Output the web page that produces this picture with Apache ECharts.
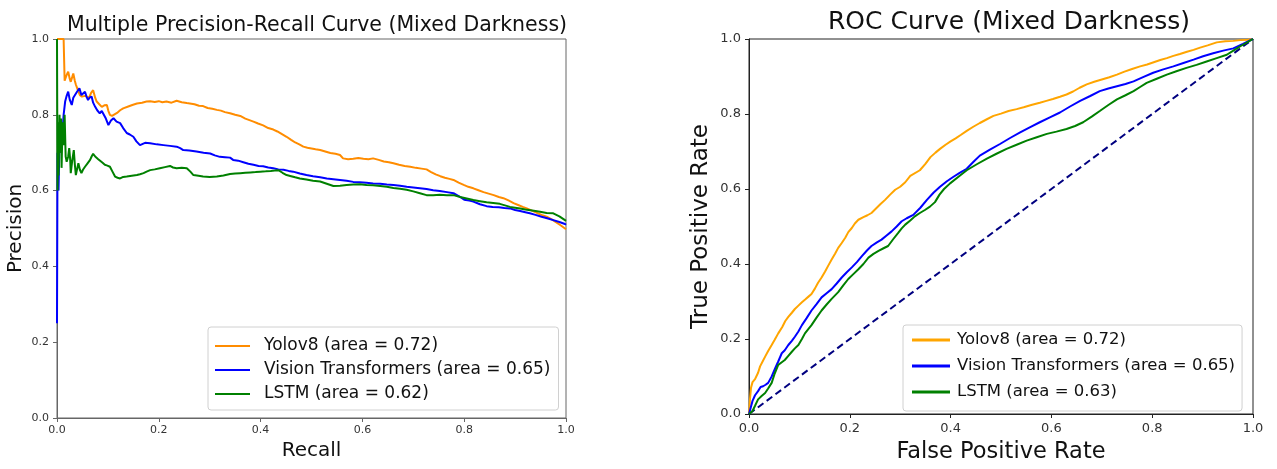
<!DOCTYPE html>
<html>
<head>
<meta charset="utf-8">
<script src="https://cdn.jsdelivr.net/npm/echarts@6/dist/echarts.min.js"></script>
<style>html,body{margin:0;padding:0;background:#fff}#c{width:1277px;height:469px}</style>
</head>
<body>
<div id="c"></div>
<script>
// ---- tick labels ----
const tickValues = [0, 0.2, 0.4, 0.6, 0.8, 1.0];

// ---- series names ----
const prNames = ['Yolov8 (area = 0.72)', 'Vision Transformers (area = 0.65)', 'LSTM (area = 0.62)'];
const rocNames = ['Yolov8 (area = 0.72)', 'Vision Transformers (area = 0.65)', 'LSTM (area = 0.63)'];

// ---- Precision-Recall data: [recall, precision] ----
const prYolo = [[0,1.0],[0.013,1.0],[0.015,0.89],[0.019,0.905],[0.022,0.914],[0.025,0.895],[0.027,0.887],[0.030,0.90],[0.032,0.909],[0.035,0.89],[0.037,0.88],[0.041,0.865],[0.045,0.852],[0.049,0.848],[0.052,0.843],[0.055,0.85],[0.058,0.852],[0.063,0.845],[0.067,0.858],[0.071,0.865],[0.075,0.845],[0.078,0.835],[0.083,0.828],[0.088,0.821],[0.093,0.825],[0.098,0.826],[0.101,0.81],[0.104,0.80],[0.108,0.797],[0.111,0.795],[0.118,0.805],[0.124,0.812],[0.13,0.817],[0.14,0.822],[0.148,0.826],[0.157,0.83],[0.167,0.832],[0.176,0.835],[0.183,0.836],[0.192,0.834],[0.2,0.836],[0.207,0.833],[0.215,0.835],[0.225,0.832],[0.235,0.837],[0.245,0.833],[0.255,0.831],[0.261,0.83],[0.27,0.828],[0.279,0.824],[0.287,0.823],[0.296,0.818],[0.305,0.816],[0.314,0.813],[0.322,0.811],[0.33,0.807],[0.34,0.804],[0.35,0.8],[0.36,0.797],[0.37,0.79],[0.378,0.786],[0.386,0.782],[0.395,0.777],[0.405,0.772],[0.415,0.765],[0.425,0.761],[0.433,0.756],[0.442,0.749],[0.451,0.742],[0.46,0.734],[0.468,0.727],[0.476,0.722],[0.484,0.716],[0.492,0.713],[0.5,0.711],[0.508,0.709],[0.517,0.707],[0.527,0.703],[0.537,0.699],[0.547,0.697],[0.556,0.694],[0.562,0.685],[0.572,0.683],[0.582,0.684],[0.592,0.686],[0.602,0.684],[0.612,0.683],[0.621,0.685],[0.632,0.681],[0.642,0.677],[0.652,0.675],[0.661,0.672],[0.672,0.668],[0.683,0.665],[0.694,0.663],[0.705,0.66],[0.716,0.658],[0.726,0.656],[0.735,0.649],[0.744,0.643],[0.753,0.638],[0.762,0.634],[0.771,0.631],[0.779,0.628],[0.789,0.621],[0.799,0.615],[0.808,0.61],[0.818,0.606],[0.828,0.601],[0.838,0.596],[0.848,0.592],[0.858,0.588],[0.868,0.583],[0.877,0.58],[0.887,0.574],[0.897,0.567],[0.906,0.562],[0.915,0.557],[0.923,0.553],[0.933,0.547],[0.943,0.541],[0.952,0.536],[0.962,0.531],[0.972,0.524],[0.981,0.516],[0.99,0.508],[0.998,0.5],[1.0,0.498]];

const prVit = [[0,0.25],[0.001,0.70],[0.003,0.60],[0.005,0.74],[0.006,0.733],[0.008,0.70],[0.011,0.76],[0.013,0.80],[0.016,0.835],[0.019,0.85],[0.022,0.861],[0.025,0.84],[0.029,0.826],[0.032,0.845],[0.035,0.848],[0.039,0.86],[0.044,0.870],[0.048,0.852],[0.051,0.857],[0.055,0.861],[0.058,0.848],[0.061,0.839],[0.064,0.845],[0.068,0.848],[0.071,0.832],[0.075,0.821],[0.079,0.812],[0.084,0.804],[0.088,0.81],[0.091,0.813],[0.096,0.79],[0.101,0.773],[0.106,0.785],[0.111,0.791],[0.117,0.782],[0.124,0.778],[0.13,0.765],[0.137,0.752],[0.143,0.748],[0.15,0.742],[0.156,0.73],[0.163,0.72],[0.173,0.726],[0.183,0.725],[0.196,0.722],[0.209,0.72],[0.222,0.718],[0.235,0.716],[0.242,0.712],[0.248,0.707],[0.26,0.706],[0.274,0.703],[0.288,0.70],[0.301,0.698],[0.31,0.693],[0.32,0.689],[0.33,0.688],[0.34,0.687],[0.346,0.681],[0.356,0.679],[0.366,0.675],[0.376,0.671],[0.386,0.668],[0.396,0.665],[0.405,0.664],[0.415,0.661],[0.425,0.659],[0.435,0.656],[0.445,0.655],[0.455,0.652],[0.464,0.65],[0.477,0.645],[0.49,0.641],[0.503,0.638],[0.517,0.635],[0.53,0.632],[0.543,0.63],[0.556,0.628],[0.569,0.626],[0.582,0.623],[0.595,0.622],[0.608,0.621],[0.621,0.619],[0.635,0.618],[0.648,0.616],[0.661,0.615],[0.674,0.613],[0.687,0.61],[0.70,0.608],[0.713,0.606],[0.726,0.604],[0.739,0.601],[0.752,0.599],[0.766,0.596],[0.779,0.593],[0.79,0.585],[0.8,0.576],[0.81,0.574],[0.818,0.571],[0.831,0.564],[0.844,0.559],[0.856,0.557],[0.868,0.556],[0.879,0.554],[0.89,0.553],[0.90,0.549],[0.91,0.546],[0.92,0.543],[0.929,0.54],[0.94,0.536],[0.952,0.531],[0.963,0.527],[0.975,0.522],[0.987,0.517],[0.998,0.512],[1.0,0.51]];

const prLstm = [[0,1.0],[0.001,0.60],[0.002,0.78],[0.003,0.64],[0.005,0.80],[0.006,0.70],[0.008,0.79],[0.009,0.66],[0.011,0.78],[0.013,0.72],[0.015,0.80],[0.017,0.69],[0.019,0.676],[0.022,0.69],[0.024,0.712],[0.026,0.68],[0.027,0.646],[0.03,0.68],[0.033,0.707],[0.035,0.67],[0.037,0.641],[0.04,0.66],[0.042,0.672],[0.045,0.655],[0.048,0.646],[0.051,0.655],[0.055,0.663],[0.06,0.672],[0.065,0.681],[0.068,0.69],[0.071,0.697],[0.075,0.69],[0.078,0.685],[0.081,0.683],[0.084,0.681],[0.089,0.674],[0.094,0.668],[0.099,0.666],[0.104,0.663],[0.109,0.65],[0.114,0.637],[0.119,0.634],[0.124,0.632],[0.13,0.636],[0.137,0.637],[0.147,0.639],[0.157,0.641],[0.163,0.643],[0.17,0.646],[0.176,0.65],[0.183,0.654],[0.192,0.656],[0.202,0.659],[0.212,0.662],[0.222,0.665],[0.228,0.661],[0.235,0.659],[0.245,0.66],[0.255,0.659],[0.262,0.65],[0.268,0.641],[0.278,0.639],[0.287,0.637],[0.3,0.636],[0.314,0.637],[0.327,0.64],[0.34,0.644],[0.35,0.645],[0.36,0.646],[0.37,0.647],[0.38,0.648],[0.39,0.649],[0.399,0.65],[0.41,0.651],[0.42,0.652],[0.428,0.653],[0.435,0.654],[0.443,0.647],[0.451,0.641],[0.46,0.638],[0.468,0.635],[0.477,0.632],[0.49,0.629],[0.503,0.626],[0.517,0.624],[0.53,0.618],[0.543,0.612],[0.556,0.613],[0.569,0.615],[0.582,0.616],[0.595,0.617],[0.608,0.615],[0.621,0.614],[0.635,0.612],[0.648,0.61],[0.661,0.607],[0.674,0.605],[0.687,0.602],[0.70,0.598],[0.713,0.593],[0.726,0.588],[0.739,0.588],[0.752,0.589],[0.766,0.588],[0.779,0.588],[0.792,0.583],[0.805,0.579],[0.818,0.575],[0.831,0.572],[0.844,0.569],[0.857,0.567],[0.87,0.565],[0.88,0.561],[0.89,0.557],[0.9,0.555],[0.91,0.553],[0.92,0.55],[0.93,0.548],[0.94,0.546],[0.949,0.544],[0.962,0.541],[0.975,0.54],[0.987,0.532],[0.998,0.522],[1.0,0.52]];

// ---- ROC data: [fpr, tpr] ----
const rocYolo = [[0,0],[0.002,0.04],[0.004,0.07],[0.007,0.085],[0.009,0.09],[0.012,0.093],[0.015,0.096],[0.018,0.11],[0.022,0.127],[0.027,0.14],[0.032,0.153],[0.038,0.168],[0.045,0.184],[0.051,0.198],[0.058,0.215],[0.066,0.232],[0.072,0.248],[0.078,0.259],[0.085,0.27],[0.091,0.28],[0.098,0.289],[0.105,0.298],[0.112,0.306],[0.118,0.313],[0.124,0.32],[0.131,0.335],[0.137,0.35],[0.144,0.364],[0.151,0.38],[0.157,0.395],[0.164,0.412],[0.171,0.428],[0.177,0.443],[0.184,0.456],[0.191,0.47],[0.197,0.485],[0.204,0.496],[0.21,0.508],[0.217,0.518],[0.227,0.525],[0.235,0.53],[0.243,0.536],[0.252,0.548],[0.261,0.56],[0.27,0.571],[0.28,0.585],[0.29,0.598],[0.3,0.606],[0.31,0.618],[0.32,0.635],[0.339,0.65],[0.35,0.667],[0.36,0.685],[0.37,0.697],[0.379,0.707],[0.39,0.718],[0.4,0.727],[0.41,0.735],[0.42,0.744],[0.432,0.755],[0.445,0.766],[0.458,0.776],[0.472,0.786],[0.485,0.795],[0.5,0.801],[0.515,0.808],[0.531,0.813],[0.545,0.818],[0.56,0.824],[0.577,0.83],[0.59,0.835],[0.603,0.84],[0.617,0.846],[0.63,0.852],[0.643,0.86],[0.656,0.87],[0.67,0.879],[0.685,0.886],[0.7,0.892],[0.715,0.898],[0.73,0.905],[0.745,0.913],[0.76,0.92],[0.776,0.927],[0.79,0.932],[0.803,0.938],[0.816,0.944],[0.829,0.949],[0.842,0.955],[0.855,0.96],[0.869,0.966],[0.882,0.971],[0.895,0.977],[0.91,0.983],[0.928,0.991],[0.945,0.994],[0.961,0.995],[0.975,0.997],[0.99,0.998],[1.0,1.0]];

const rocVit = [[0,0],[0.004,0.02],[0.007,0.035],[0.012,0.05],[0.018,0.061],[0.023,0.072],[0.028,0.074],[0.033,0.078],[0.038,0.083],[0.045,0.1],[0.052,0.122],[0.058,0.14],[0.065,0.162],[0.071,0.17],[0.078,0.184],[0.085,0.195],[0.091,0.206],[0.098,0.22],[0.105,0.237],[0.114,0.255],[0.124,0.276],[0.134,0.293],[0.144,0.311],[0.154,0.322],[0.164,0.333],[0.174,0.348],[0.184,0.364],[0.194,0.378],[0.204,0.391],[0.214,0.405],[0.224,0.421],[0.234,0.436],[0.243,0.448],[0.253,0.457],[0.263,0.465],[0.273,0.476],[0.283,0.487],[0.293,0.5],[0.303,0.514],[0.313,0.522],[0.326,0.531],[0.34,0.55],[0.353,0.571],[0.366,0.59],[0.379,0.606],[0.392,0.62],[0.405,0.632],[0.418,0.643],[0.432,0.654],[0.445,0.672],[0.458,0.689],[0.478,0.705],[0.498,0.72],[0.518,0.736],[0.538,0.751],[0.558,0.765],[0.577,0.778],[0.597,0.791],[0.617,0.804],[0.637,0.82],[0.657,0.835],[0.677,0.848],[0.696,0.861],[0.713,0.868],[0.73,0.874],[0.747,0.88],[0.763,0.887],[0.783,0.899],[0.802,0.91],[0.822,0.919],[0.842,0.927],[0.862,0.936],[0.882,0.945],[0.901,0.954],[0.921,0.962],[0.941,0.969],[0.961,0.975],[0.98,0.987],[1.0,1.0]];

const rocLstm = [[0,0],[0.007,0.008],[0.012,0.022],[0.018,0.039],[0.025,0.048],[0.032,0.056],[0.038,0.068],[0.045,0.083],[0.051,0.108],[0.058,0.131],[0.065,0.138],[0.071,0.144],[0.078,0.155],[0.085,0.166],[0.091,0.175],[0.098,0.184],[0.105,0.2],[0.111,0.215],[0.118,0.227],[0.124,0.237],[0.134,0.257],[0.144,0.276],[0.154,0.292],[0.164,0.307],[0.177,0.325],[0.187,0.343],[0.197,0.36],[0.207,0.373],[0.217,0.386],[0.227,0.4],[0.237,0.417],[0.247,0.427],[0.257,0.435],[0.267,0.442],[0.276,0.448],[0.286,0.466],[0.296,0.483],[0.303,0.495],[0.31,0.505],[0.32,0.516],[0.329,0.527],[0.339,0.536],[0.349,0.544],[0.359,0.553],[0.369,0.565],[0.378,0.585],[0.387,0.6],[0.399,0.615],[0.415,0.632],[0.432,0.65],[0.452,0.666],[0.472,0.681],[0.491,0.694],[0.511,0.707],[0.531,0.718],[0.551,0.729],[0.571,0.738],[0.591,0.747],[0.61,0.753],[0.63,0.76],[0.647,0.768],[0.663,0.778],[0.68,0.793],[0.696,0.808],[0.713,0.824],[0.73,0.839],[0.747,0.85],[0.763,0.861],[0.776,0.872],[0.789,0.883],[0.809,0.894],[0.829,0.905],[0.848,0.914],[0.868,0.923],[0.888,0.931],[0.908,0.94],[0.928,0.949],[0.948,0.958],[0.961,0.969],[0.974,0.98],[0.987,0.99],[1.0,1.0]];

const chanceLine = [[0,0],[1,1]];

// ---- styles ----
const FONT = 'DejaVu Sans';
const prColors = ['#ff8c00', '#0000ff', '#008000'];
const rocColors = ['#ffa500', '#0000ff', '#008000'];

function valAxis(gridIndex, fontSize, axisColor, name, nameSize, nameGap, margin) {
  return {
    type: 'value', gridIndex, min: 0, max: 1, interval: 0.2,
    name, nameLocation: 'middle', nameGap,
    nameTextStyle: { fontFamily: FONT, fontSize: nameSize, color: '#111' },
    axisLine: { show: true, lineStyle: { color: axisColor, width: 1 } },
    axisTick: { show: true, length: 4, lineStyle: { color: axisColor } },
    splitLine: { show: false },
    axisLabel: { fontFamily: FONT, fontSize, color: '#333', margin,
      formatter: v => tickValues.some(t => Math.abs(t - v) < 1e-9) ? v.toFixed(1) : '' }
  };
}

const chart = echarts.init(document.getElementById('c'), null, { renderer: 'canvas' });
chart.setOption({
  animation: false,
  backgroundColor: '#fff',
  title: [
    { text: 'Multiple Precision-Recall Curve (Mixed Darkness)', left: 312, top: 10, textAlign: 'center',
      textStyle: { fontFamily: FONT, fontSize: 20.5, fontWeight: 'normal', color: '#111' } },
    { text: 'ROC Curve (Mixed Darkness)', left: 1004, top: 5, textAlign: 'center',
      textStyle: { fontFamily: FONT, fontSize: 25, fontWeight: 'normal', color: '#111' } }
  ],
  grid: [
    { left: 57, right: 711, top: 39, bottom: 51, show: true, borderColor: '#666', borderWidth: 1, backgroundColor: 'transparent' },
    { left: 749, right: 24, top: 39, bottom: 51, show: true, borderColor: '#222', borderWidth: 1, backgroundColor: 'transparent' }
  ],
  xAxis: [
    valAxis(0, 11, '#666', 'Recall', 20, 22, 7),
    valAxis(1, 13, '#222', 'False Positive Rate', 22.5, 27, 8)
  ],
  yAxis: [
    valAxis(0, 11, '#666', 'Precision', 20, 31, 8),
    valAxis(1, 13, '#222', 'True Positive Rate', 23, 36, 8)
  ],
  legend: [
    { orient: 'vertical', left: 208, top: 327, itemWidth: 35, itemHeight: 2, itemGap: 4, icon: 'rect',
      padding: [9, 8, 6, 7], borderColor: '#d0d0d0', borderWidth: 1, borderRadius: 3, backgroundColor: 'rgba(255,255,255,0.85)',
      textStyle: { fontFamily: FONT, fontSize: 17, color: '#111', lineHeight: 20, padding: [0, 0, 0, 9] },
      data: prNames.map((n, i) => ({ name: n, itemStyle: { color: prColors[i] } })) },
    { orient: 'vertical', left: 903, top: 325, itemWidth: 38, itemHeight: 3, itemGap: 6, icon: 'rect',
      padding: [5, 7, 9, 9], borderColor: '#d0d0d0', borderWidth: 1, borderRadius: 3, backgroundColor: 'rgba(255,255,255,0.85)',
      textStyle: { fontFamily: FONT, fontSize: 16.5, color: '#111', lineHeight: 20, padding: [0, 0, 0, 2] },
      data: rocNames.map((n, i) => ({ name: n, itemStyle: { color: rocColors[i] } })) }
  ],
  series: [
    { name: prNames[0], type: 'line', xAxisIndex: 0, yAxisIndex: 0, data: prYolo, showSymbol: false, lineStyle: { color: prColors[0], width: 2 }, itemStyle: { color: prColors[0] } },
    { name: prNames[1], type: 'line', xAxisIndex: 0, yAxisIndex: 0, data: prVit, showSymbol: false, lineStyle: { color: prColors[1], width: 2 }, itemStyle: { color: prColors[1] } },
    { name: prNames[2], type: 'line', xAxisIndex: 0, yAxisIndex: 0, data: prLstm, showSymbol: false, lineStyle: { color: prColors[2], width: 2 }, itemStyle: { color: prColors[2] } },
    { name: rocNames[0], type: 'line', xAxisIndex: 1, yAxisIndex: 1, data: rocYolo, showSymbol: false, lineStyle: { color: rocColors[0], width: 2 }, itemStyle: { color: rocColors[0] } },
    { name: rocNames[1], type: 'line', xAxisIndex: 1, yAxisIndex: 1, data: rocVit, showSymbol: false, lineStyle: { color: rocColors[1], width: 2 }, itemStyle: { color: rocColors[1] } },
    { name: rocNames[2], type: 'line', xAxisIndex: 1, yAxisIndex: 1, data: rocLstm, showSymbol: false, lineStyle: { color: rocColors[2], width: 2 }, itemStyle: { color: rocColors[2] } },
    { name: 'chance', type: 'line', xAxisIndex: 1, yAxisIndex: 1, data: chanceLine, showSymbol: false, lineStyle: { color: '#000080', width: 2, type: [7, 4] }, z: 1 }
  ]
});
</script>
</body>
</html>
